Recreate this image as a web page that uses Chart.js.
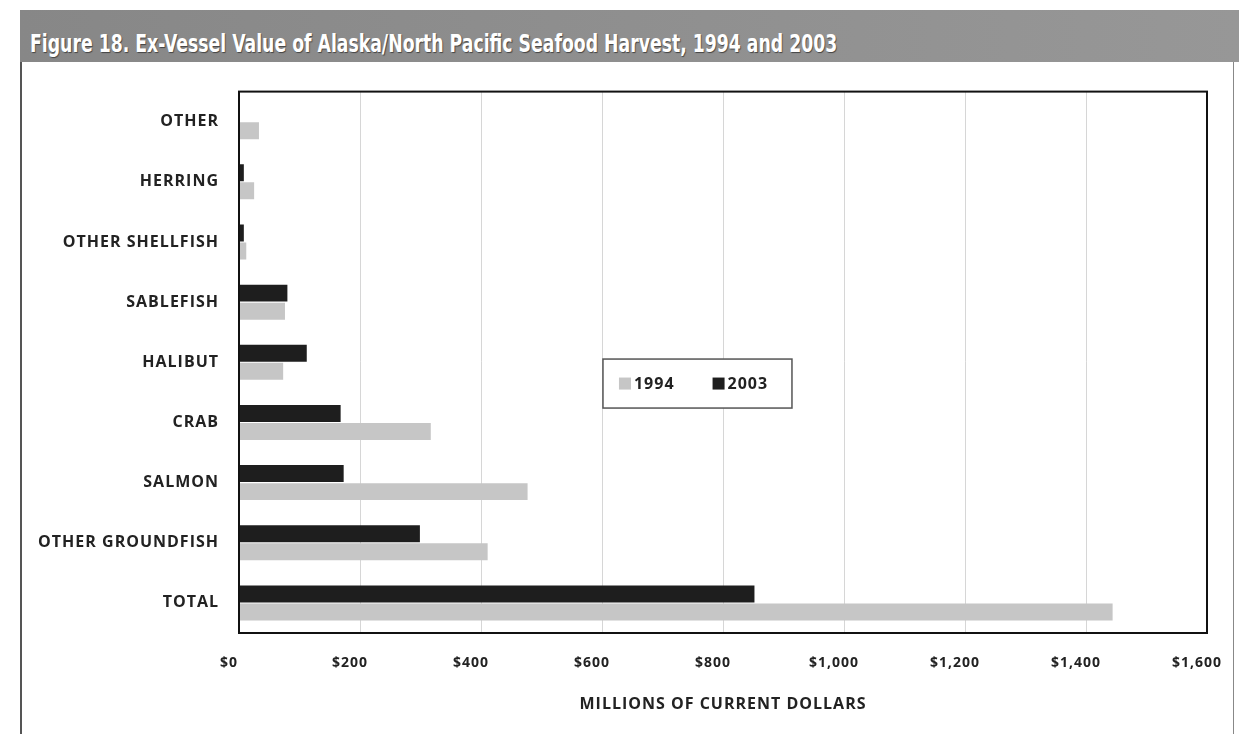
<!DOCTYPE html>
<html>
<head>
<meta charset="utf-8">
<script src="https://cdn.jsdelivr.net/npm/chart.js@4/dist/chart.umd.min.js"></script>
<style>
  html, body { margin: 0; padding: 0; background: #fff; }
  body { width: 1239px; height: 734px; position: relative; overflow: hidden; }
  #banner {
    position: absolute; left: 20px; top: 10px; width: 1219px; height: 52px;
    background: linear-gradient(90deg, #878787 0%, #8f8f8f 50%, #979797 100%);
  }
  #banner h1 {
    margin: 0; padding: 0; position: absolute; left: 10px; top: 19px;
    white-space: nowrap; line-height: 30px;
    font-family: "DejaVu Sans Condensed", "DejaVu Sans", sans-serif;
    font-weight: bold; font-size: 24px; color: #fff;
    transform: scaleX(0.8); transform-origin: 0 50%;
    text-shadow: 1px 1px 1px #444;
  }
  #panel {
    position: absolute; left: 20px; top: 62px; width: 1211px; height: 672px;
    border-left: 2px solid #555; border-right: 1px solid #888;
  }
  #panel canvas { position: absolute; left: 0; top: 0; }
</style>
</head>
<body>
<div id="banner"><h1>Figure 18. Ex-Vessel Value of Alaska/North Pacific Seafood Harvest, 1994 and 2003</h1></div>
<div id="panel"><canvas id="barChart" width="1211" height="672"></canvas></div>
<script>
// categories top to bottom, values in millions of current dollars
var categories = ['OTHER', 'HERRING', 'OTHER SHELLFISH', 'SABLEFISH', 'HALIBUT', 'CRAB', 'SALMON', 'OTHER GROUNDFISH', 'TOTAL'];
var values1994 = [33, 25, 12, 76, 73, 317, 477, 411, 1444];
var values2003 = [0, 8, 8, 80, 112, 168, 173, 299, 852];
var xTicks = [0, 200, 400, 600, 800, 1000, 1200, 1400, 1600];

var txt = '#222';

// canvas has no letter-spacing option in Chart.js, set it on the context
var spacing = {
    id: 'spacing',
    beforeUpdate: (c) => { c.ctx.letterSpacing = '1px'; },
    beforeDraw: (c) => { c.ctx.letterSpacing = '1px'; }
};

// black frame round the plot area
var frame = {
    id: 'frame',
    afterDraw: (c) => {
        var a = c.chartArea, ctx = c.ctx;
        ctx.save();
        ctx.strokeStyle = '#111';
        ctx.lineWidth = 2;
        ctx.strokeRect(a.left, a.top, a.right - a.left, a.bottom - a.top);
        ctx.restore();
    }
};

// legend box sitting inside the plot
var boxLegend = {
    id: 'boxLegend',
    afterDraw: (c) => {
        var a = c.chartArea, ctx = c.ctx;
        var bx = a.left + (a.right - a.left) * 0.376;
        var by = a.top + (a.bottom - a.top) * 0.494;
        var bw = 189, bh = 49;
        ctx.save();
        ctx.letterSpacing = '1px';
        ctx.fillStyle = '#fff';
        ctx.fillRect(bx, by, bw, bh);
        ctx.strokeStyle = '#555';
        ctx.lineWidth = 1.5;
        ctx.strokeRect(bx, by, bw, bh);
        ctx.font = "bold 16px 'Open Sans'";
        ctx.textBaseline = 'middle';
        var x = bx + 16, cy = by + bh / 2;
        c.data.datasets.slice().reverse().forEach((ds) => {
            ctx.fillStyle = ds.backgroundColor;
            ctx.fillRect(x, cy - 6, 12, 12);
            x += 15;
            ctx.fillStyle = txt;
            ctx.fillText(ds.label, x, cy + 1);
            x += ctx.measureText(ds.label).width + 38;
        });
        ctx.restore();
    }
};

new Chart(document.getElementById('barChart'), {
    type: 'bar',
    data: {
        labels: categories,
        datasets: [
            {
                label: '2003',
                data: values2003,
                backgroundColor: '#1e1e1e',
                categoryPercentage: 0.6,
                barPercentage: 0.94
            },
            {
                label: '1994',
                data: values1994,
                backgroundColor: '#c6c6c6',
                categoryPercentage: 0.6,
                barPercentage: 0.94
            }
        ]
    },
    options: {
        indexAxis: 'y',
        responsive: false,
        animation: false,
        layout: { padding: { top: 28, right: 26, left: 0, bottom: 0 } },
        plugins: {
            legend: { display: false },
            tooltip: { enabled: false }
        },
        scales: {
            x: {
                min: 0,
                max: 1600,
                afterBuildTicks: (s) => { s.ticks = xTicks.map((v) => ({ value: v })); },
                afterFit: (s) => { s.height = 101; s.paddingLeft = 0; s.paddingRight = 0; },
                grid: { color: '#d6d6d6', lineWidth: 1, drawTicks: false },
                border: { color: '#111', width: 2 },
                ticks: {
                    padding: 22,
                    labelOffset: -10,
                    color: txt,
                    font: { family: 'Open Sans', weight: 'bold', size: 14 },
                    callback: (v) => '$' + Number(v).toLocaleString('en-US')
                },
                title: {
                    display: true,
                    text: 'MILLIONS OF CURRENT DOLLARS',
                    color: txt,
                    font: { family: 'Open Sans', weight: 'bold', size: 16 },
                    padding: { top: 0, bottom: 20 }
                }
            },
            y: {
                afterFit: (s) => { s.width = 217; },
                grid: { display: false, drawTicks: false },
                border: { color: '#111', width: 2 },
                ticks: {
                    padding: 20,
                    color: txt,
                    font: { family: 'Open Sans', weight: 'bold', size: 16 }
                }
            }
        }
    },
    plugins: [spacing, frame, boxLegend]
});
</script>
</body>
</html>
